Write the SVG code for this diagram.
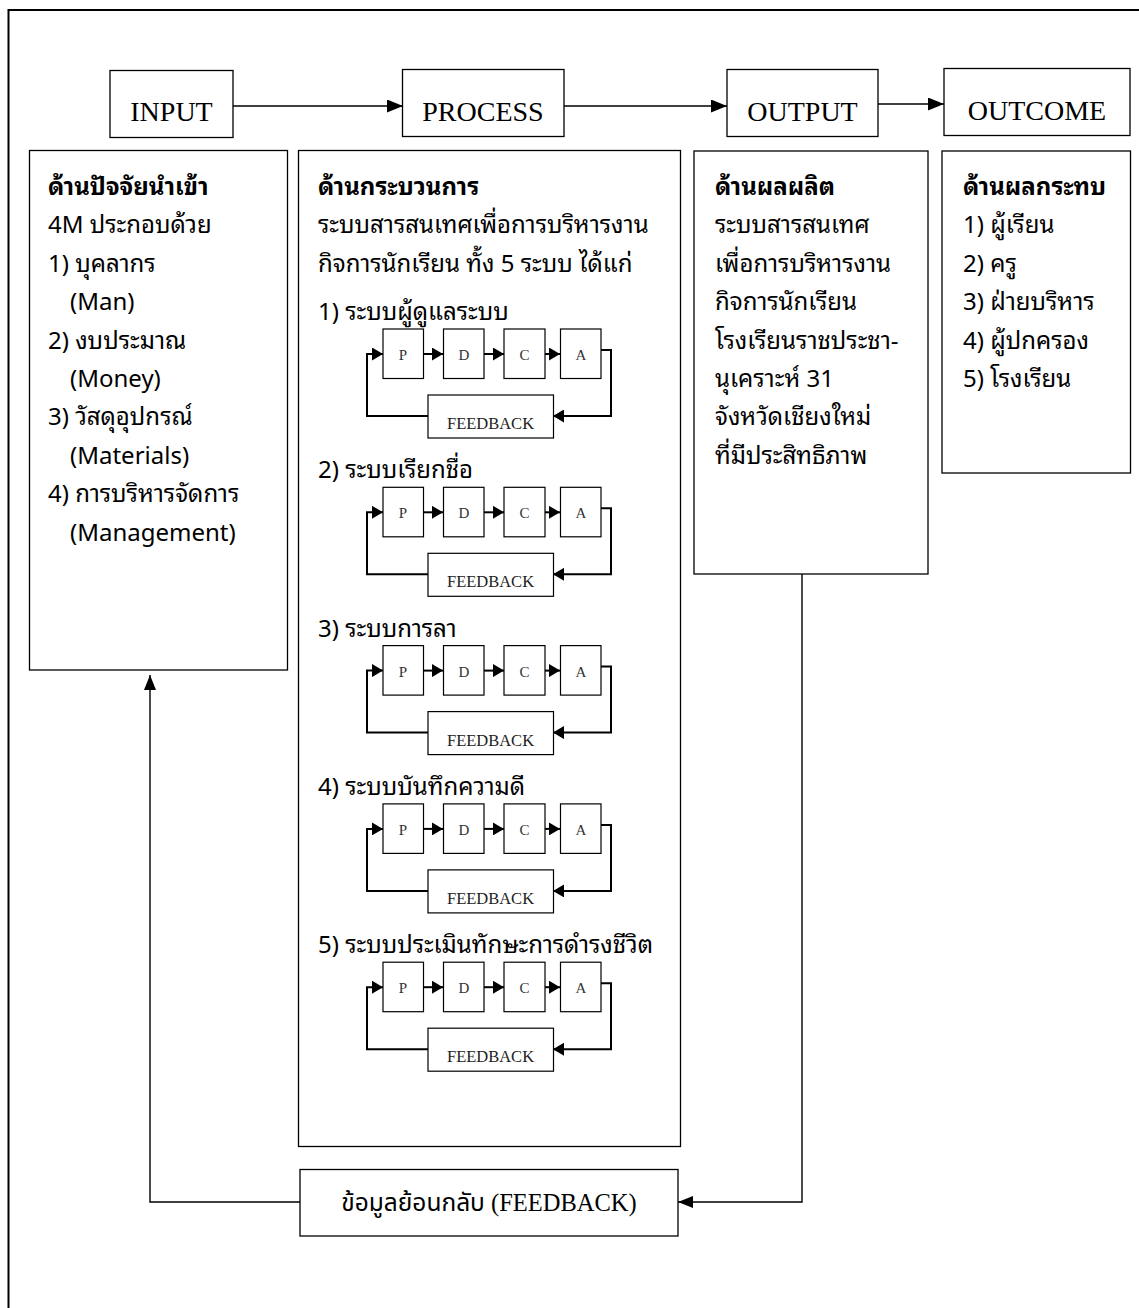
<svg xmlns="http://www.w3.org/2000/svg" width="1139" height="1308" viewBox="0 0 1139 1308">
<style>
  .box{fill:#fff;stroke:#000;stroke-width:1.3}
  .cbox{fill:none;stroke:#000;stroke-width:1.3}
  .sbox{fill:#fff;stroke:#000;stroke-width:1.2}
  .hdr{font-family:"Liberation Serif","Times New Roman",serif;font-size:28px;fill:#000;text-anchor:middle}
  .th{font-family:"Noto Sans Thai Looped","Waree","Loma","Garuda","Noto Sans Thai","Noto Sans",sans-serif;font-size:24px;fill:#000}
  .thb{font-weight:bold}
  .ltr{font-family:"Liberation Serif",serif;font-size:15px;fill:#333;text-anchor:middle}
  .fb{font-family:"Liberation Serif",serif;font-size:16.5px;fill:#222;text-anchor:middle}
  .fb2{font-family:"Liberation Serif","Noto Sans Thai",serif;font-size:24.5px;fill:#000;text-anchor:middle}
  .ln{fill:none;stroke:#000;stroke-width:1.4}
  .lnt{fill:none;stroke:#000;stroke-width:2}
</style>
<defs>
  <marker id="ah" markerUnits="userSpaceOnUse" markerWidth="16" markerHeight="13" refX="16" refY="6.5" orient="auto"><path d="M0,0 L16,6.5 L0,13 Z" fill="#000"/></marker>
  <marker id="as" markerUnits="userSpaceOnUse" markerWidth="11" markerHeight="13" refX="11" refY="6.5" orient="auto"><path d="M0,0 L11,6.5 L0,13 Z" fill="#000"/></marker>
  <marker id="ab" markerUnits="userSpaceOnUse" markerWidth="15" markerHeight="12" refX="15" refY="6" orient="auto"><path d="M0,0 L15,6 L0,12 Z" fill="#000"/></marker>
</defs>
<rect width="1139" height="1308" fill="#fff"/>
<g id="frame"><path d="M8.5,1308 V10 H1139" fill="none" stroke="#000" stroke-width="2"/></g>

<g id="connectors">
  <line class="ln" x1="233" y1="106" x2="403" y2="106" marker-end="url(#ah)"/>
  <line class="ln" x1="564" y1="106" x2="727" y2="106" marker-end="url(#ah)"/>
  <line class="ln" x1="878" y1="104" x2="944" y2="104" marker-end="url(#ah)"/>
  <path class="ln" d="M802,574 V1202 H678" marker-end="url(#ab)"/>
  <path class="ln" d="M300,1202 H150 V675" marker-end="url(#ab)"/>
  <g transform="translate(0,329)"><line class="lnt" x1="423" y1="25" x2="443" y2="25" marker-end="url(#as)"/><line class="lnt" x1="484" y1="25" x2="504" y2="25" marker-end="url(#as)"/><line class="lnt" x1="545" y1="25" x2="560" y2="25" marker-end="url(#as)"/><path class="lnt" d="M428,87 H367 V25 H383" marker-end="url(#as)"/><path class="lnt" d="M601,21 H611 V87 H553" marker-end="url(#as)"/></g>
  <g transform="translate(0,487.3)"><line class="lnt" x1="423" y1="25" x2="443" y2="25" marker-end="url(#as)"/><line class="lnt" x1="484" y1="25" x2="504" y2="25" marker-end="url(#as)"/><line class="lnt" x1="545" y1="25" x2="560" y2="25" marker-end="url(#as)"/><path class="lnt" d="M428,87 H367 V25 H383" marker-end="url(#as)"/><path class="lnt" d="M601,21 H611 V87 H553" marker-end="url(#as)"/></g>
  <g transform="translate(0,645.6)"><line class="lnt" x1="423" y1="25" x2="443" y2="25" marker-end="url(#as)"/><line class="lnt" x1="484" y1="25" x2="504" y2="25" marker-end="url(#as)"/><line class="lnt" x1="545" y1="25" x2="560" y2="25" marker-end="url(#as)"/><path class="lnt" d="M428,87 H367 V25 H383" marker-end="url(#as)"/><path class="lnt" d="M601,21 H611 V87 H553" marker-end="url(#as)"/></g>
  <g transform="translate(0,803.9)"><line class="lnt" x1="423" y1="25" x2="443" y2="25" marker-end="url(#as)"/><line class="lnt" x1="484" y1="25" x2="504" y2="25" marker-end="url(#as)"/><line class="lnt" x1="545" y1="25" x2="560" y2="25" marker-end="url(#as)"/><path class="lnt" d="M428,87 H367 V25 H383" marker-end="url(#as)"/><path class="lnt" d="M601,21 H611 V87 H553" marker-end="url(#as)"/></g>
  <g transform="translate(0,962.2)"><line class="lnt" x1="423" y1="25" x2="443" y2="25" marker-end="url(#as)"/><line class="lnt" x1="484" y1="25" x2="504" y2="25" marker-end="url(#as)"/><line class="lnt" x1="545" y1="25" x2="560" y2="25" marker-end="url(#as)"/><path class="lnt" d="M428,87 H367 V25 H383" marker-end="url(#as)"/><path class="lnt" d="M601,21 H611 V87 H553" marker-end="url(#as)"/></g>
</g>

<g id="input-head"><rect class="box" x="110" y="70.5" width="123" height="67"/><text class="hdr" x="171.5" y="121">INPUT</text></g>
<g id="process-head"><rect class="box" x="402.5" y="69.5" width="161.5" height="67"/><text class="hdr" x="483" y="121">PROCESS</text></g>
<g id="output-head"><rect class="box" x="727" y="69.5" width="151" height="67"/><text class="hdr" x="802.5" y="121">OUTPUT</text></g>
<g id="outcome-head"><rect class="box" x="944" y="68.5" width="186" height="67"/><text class="hdr" x="1037" y="120">OUTCOME</text></g>

<g id="input-box">
  <rect class="cbox" x="29.5" y="150.5" width="258" height="519.5"/>
  <text class="th thb" x="48" y="195">ด้านปัจจัยนำเข้า</text>
  <text class="th" x="48" y="233.4">4M ประกอบด้วย</text>
  <text class="th" x="48" y="271.8">1) บุคลากร</text>
  <text class="th" x="70" y="310.2">(Man)</text>
  <text class="th" x="48" y="348.6">2) งบประมาณ</text>
  <text class="th" x="70" y="387">(Money)</text>
  <text class="th" x="48" y="425.4">3) วัสดุอุปกรณ์</text>
  <text class="th" x="70" y="463.8">(Materials)</text>
  <text class="th" x="48" y="502.2">4) การบริหารจัดการ</text>
  <text class="th" x="70" y="540.6">(Management)</text>
</g>

<g id="process-box">
  <rect class="cbox" x="298.5" y="150.5" width="382" height="996"/>
  <text class="th thb" x="318" y="195">ด้านกระบวนการ</text>
  <text class="th" x="318" y="233.4">ระบบสารสนเทศเพื่อการบริหารงาน</text>
  <text class="th" x="318" y="271.8">กิจการนักเรียน ทั้ง 5 ระบบ ได้แก่</text>
  <text class="th" x="318" y="320">1) ระบบผู้ดูแลระบบ</text>
  <text class="th" x="318" y="478.3">2) ระบบเรียกชื่อ</text>
  <text class="th" x="318" y="636.6">3) ระบบการลา</text>
  <text class="th" x="318" y="794.9">4) ระบบบันทึกความดี</text>
  <text class="th" x="318" y="953.2">5) ระบบประเมินทักษะการดำรงชีวิต</text>
</g>

<g id="pdca-1" transform="translate(0,329)">
  <rect class="sbox" x="383" y="0" width="40.5" height="49.5"/><text class="ltr" x="403" y="31">P</text>
  <rect class="sbox" x="443.5" y="0" width="40.5" height="49.5"/><text class="ltr" x="464" y="31">D</text>
  <rect class="sbox" x="504" y="0" width="41" height="49.5"/><text class="ltr" x="524.5" y="31">C</text>
  <rect class="sbox" x="560.5" y="0" width="40.5" height="49.5"/><text class="ltr" x="581" y="31">A</text>
  <rect class="sbox" x="428" y="66" width="125.5" height="43"/><text class="fb" x="490.5" y="100">FEEDBACK</text>
</g>
<g id="pdca-2" transform="translate(0,487.3)">
  <rect class="sbox" x="383" y="0" width="40.5" height="49.5"/><text class="ltr" x="403" y="31">P</text>
  <rect class="sbox" x="443.5" y="0" width="40.5" height="49.5"/><text class="ltr" x="464" y="31">D</text>
  <rect class="sbox" x="504" y="0" width="41" height="49.5"/><text class="ltr" x="524.5" y="31">C</text>
  <rect class="sbox" x="560.5" y="0" width="40.5" height="49.5"/><text class="ltr" x="581" y="31">A</text>
  <rect class="sbox" x="428" y="66" width="125.5" height="43"/><text class="fb" x="490.5" y="100">FEEDBACK</text>
</g>
<g id="pdca-3" transform="translate(0,645.6)">
  <rect class="sbox" x="383" y="0" width="40.5" height="49.5"/><text class="ltr" x="403" y="31">P</text>
  <rect class="sbox" x="443.5" y="0" width="40.5" height="49.5"/><text class="ltr" x="464" y="31">D</text>
  <rect class="sbox" x="504" y="0" width="41" height="49.5"/><text class="ltr" x="524.5" y="31">C</text>
  <rect class="sbox" x="560.5" y="0" width="40.5" height="49.5"/><text class="ltr" x="581" y="31">A</text>
  <rect class="sbox" x="428" y="66" width="125.5" height="43"/><text class="fb" x="490.5" y="100">FEEDBACK</text>
</g>
<g id="pdca-4" transform="translate(0,803.9)">
  <rect class="sbox" x="383" y="0" width="40.5" height="49.5"/><text class="ltr" x="403" y="31">P</text>
  <rect class="sbox" x="443.5" y="0" width="40.5" height="49.5"/><text class="ltr" x="464" y="31">D</text>
  <rect class="sbox" x="504" y="0" width="41" height="49.5"/><text class="ltr" x="524.5" y="31">C</text>
  <rect class="sbox" x="560.5" y="0" width="40.5" height="49.5"/><text class="ltr" x="581" y="31">A</text>
  <rect class="sbox" x="428" y="66" width="125.5" height="43"/><text class="fb" x="490.5" y="100">FEEDBACK</text>
</g>
<g id="pdca-5" transform="translate(0,962.2)">
  <rect class="sbox" x="383" y="0" width="40.5" height="49.5"/><text class="ltr" x="403" y="31">P</text>
  <rect class="sbox" x="443.5" y="0" width="40.5" height="49.5"/><text class="ltr" x="464" y="31">D</text>
  <rect class="sbox" x="504" y="0" width="41" height="49.5"/><text class="ltr" x="524.5" y="31">C</text>
  <rect class="sbox" x="560.5" y="0" width="40.5" height="49.5"/><text class="ltr" x="581" y="31">A</text>
  <rect class="sbox" x="428" y="66" width="125.5" height="43"/><text class="fb" x="490.5" y="100">FEEDBACK</text>
</g>

<g id="output-box">
  <rect class="cbox" x="694" y="151" width="234" height="423"/>
  <text class="th thb" x="715" y="195">ด้านผลผลิต</text>
  <text class="th" x="715" y="233.4">ระบบสารสนเทศ</text>
  <text class="th" x="715" y="271.8">เพื่อการบริหารงาน</text>
  <text class="th" x="715" y="310.2">กิจการนักเรียน</text>
  <text class="th" x="715" y="348.6">โรงเรียนราชประชา-</text>
  <text class="th" x="715" y="387">นุเคราะห์ 31</text>
  <text class="th" x="715" y="425.4">จังหวัดเชียงใหม่</text>
  <text class="th" x="715" y="463.8">ที่มีประสิทธิภาพ</text>
</g>

<g id="outcome-box">
  <rect class="cbox" x="942" y="151" width="188.5" height="322"/>
  <text class="th thb" x="963" y="195">ด้านผลกระทบ</text>
  <text class="th" x="963" y="233.4">1) ผู้เรียน</text>
  <text class="th" x="963" y="271.8">2) ครู</text>
  <text class="th" x="963" y="310.2">3) ฝ่ายบริหาร</text>
  <text class="th" x="963" y="348.6">4) ผู้ปกครอง</text>
  <text class="th" x="963" y="387">5) โรงเรียน</text>
</g>

<g id="feedback-box">
  <rect class="box" x="300" y="1169.5" width="378" height="66.5"/>
  <text class="fb2" x="489" y="1211">ข้อมูลย้อนกลับ (FEEDBACK)</text>
</g>
</svg>
